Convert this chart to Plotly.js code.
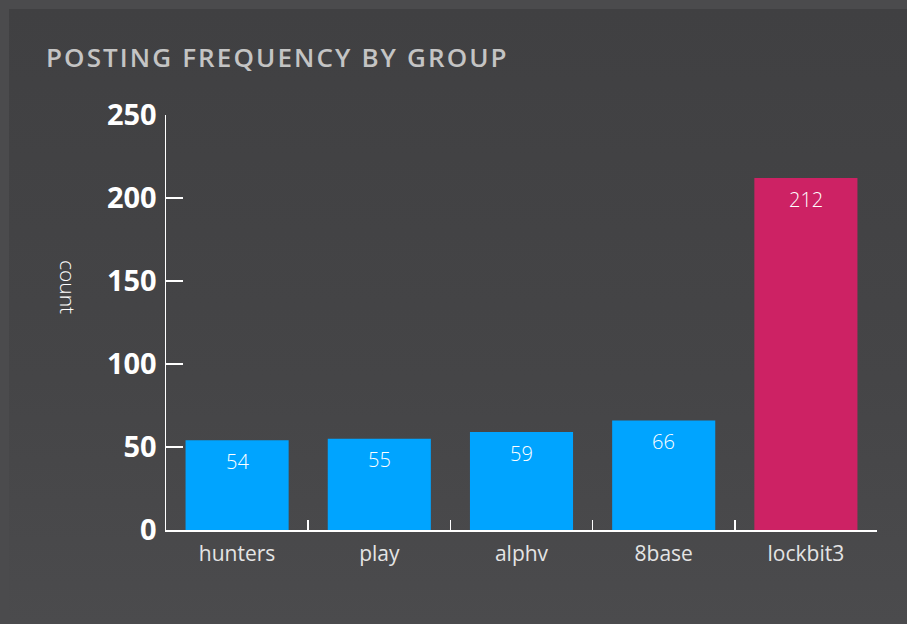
<!DOCTYPE html>
<html>
<head>
<meta charset="utf-8">
<script src="https://cdn.plot.ly/plotly-3.0.1.min.js"></script>
<style>
  html, body { margin: 0; padding: 0; width: 907px; height: 624px; background: #4b4b4d; overflow: hidden; }
  #panel { position: absolute; left: 9px; top: 9px; width: 898px; height: 615px;
           background: linear-gradient(to bottom, #404042 0%, #454547 60%, #4b4b4d 100%); }
  #chart { position: absolute; left: 0; top: 0; width: 907px; height: 624px; }
  #chart .gtitle { letter-spacing: 2.1px; }
</style>
</head>
<body>
<div id="panel"></div>
<div id="chart"></div>
<script>
const groups = ["hunters", "play", "alphv", "8base", "lockbit3"];
const counts = [54, 55, 59, 66, 212];
const barColors = ["#00a4ff", "#00a4ff", "#00a4ff", "#00a4ff", "#cd2264"];
const yTicks = [0, 50, 100, 150, 200, 250];

const trace = {
  type: "bar",
  x: groups,
  y: counts,
  marker: { color: barColors },
  hoverinfo: "none"
};

const valueLabels = groups.map((g, i) => ({
  x: g, y: counts[i], xref: "x", yref: "y",
  text: String(counts[i]),
  showarrow: false, yanchor: "middle", xanchor: "center", yshift: -21,
  font: { family: "Open Sans, sans-serif", size: 20, color: "#ffffff", weight: 300 }
}));

const layout = {
  width: 907,
  height: 624,
  paper_bgcolor: "rgba(0,0,0,0)",
  plot_bgcolor: "rgba(0,0,0,0)",
  margin: { l: 166, r: 30, t: 115, b: 94 },
  bargap: 0.275,
  showlegend: false,
  title: {
    text: "POSTING FREQUENCY BY GROUP",
    font: { family: "Open Sans, sans-serif", size: 26, color: "#c4c4c4", weight: 600 },
    x: 46 / 907, xanchor: "left", xref: "container",
    y: 1 - 58 / 624, yanchor: "middle", yref: "container"
  },
  xaxis: {
    type: "category",
    showline: true, linecolor: "#ffffff", linewidth: 1.5,
    ticks: "inside", tickson: "boundaries", ticklen: 10, tickcolor: "#ffffff", tickwidth: 1.5,
    showgrid: false, zeroline: false,
    tickfont: { family: "Open Sans, sans-serif", size: 21, color: "#e4e4e4", weight: 400 },
    ticklabelstandoff: 4
  },
  yaxis: {
    range: [0, 250],
    tickvals: yTicks,
    ticktext: yTicks.map(String),
    showline: true, linecolor: "#ffffff", linewidth: 1.5,
    ticks: "inside", ticklen: 17, tickcolor: "#ffffff", tickwidth: 1.5,
    showgrid: false, zeroline: false,
    tickfont: { family: "Open Sans, sans-serif", size: 29, color: "#ffffff", weight: "bold" },
    ticklabelstandoff: 2
  },
  annotations: valueLabels.concat([{
    text: "count",
    xref: "paper", yref: "paper",
    x: (68 - 166) / 711, y: (530 - 287) / 415,
    xanchor: "center", yanchor: "middle",
    textangle: 90,
    showarrow: false,
    font: { family: "Open Sans, sans-serif", size: 21, color: "#ffffff", weight: 300 }
  }])
};

Plotly.newPlot("chart", [trace], layout, { staticPlot: true, displayModeBar: false });
</script>
</body>
</html>
